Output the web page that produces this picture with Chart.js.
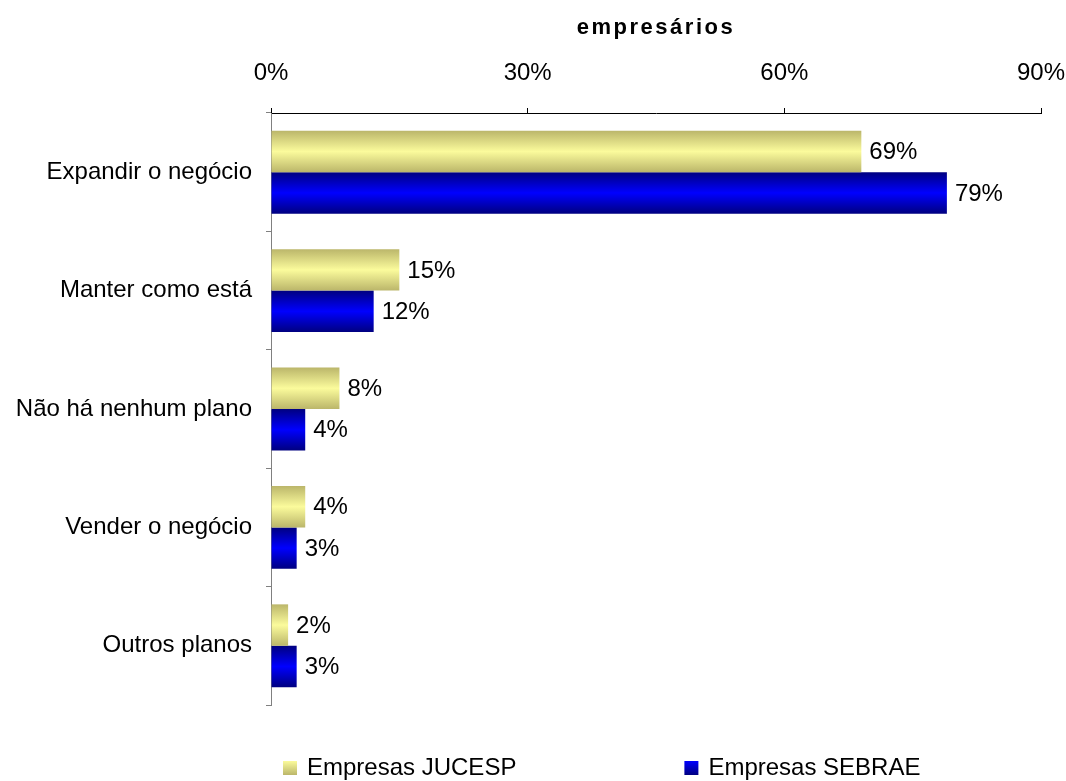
<!DOCTYPE html>
<html lang="pt">
<head>
<meta charset="utf-8">
<title>empresários</title>
<script src="https://cdn.jsdelivr.net/npm/chart.js@4.4.0/dist/chart.umd.min.js"></script>
<style>
    html, body { margin: 0; padding: 0; background: #fff; }
    #wrap { width: 1066px; height: 781px; position: relative; }
</style>
</head>
<body>
<div id="wrap"><canvas id="planosChart"></canvas></div>
<script>
// Chart data
const categories = ['Expandir o negócio', 'Manter como está', 'Não há nenhum plano', 'Vender o negócio', 'Outros planos'];
const jucespValues = [69, 15, 8, 4, 2];
const sebraeValues = [79, 12, 4, 3, 3];
const seriesNames = ['Empresas JUCESP', 'Empresas SEBRAE'];
const axisTicks = [0, 30, 60, 90];
const axisTitle = 'empresários';

// Shading for the bars (edge, middle, edge)
const yellowStops = ['#bbb66a', '#fbfb9c', '#bbb66a'];
const blueStops = ['#000080', '#0000ff', '#000080'];

const FONT = "'Liberation Sans', Arial, Helvetica, sans-serif";
Chart.defaults.font.family = FONT;
Chart.defaults.color = '#000';

/**
 * Gives every bar a vertical gradient matching its own position
 */
const barShading = {
    id: 'barShading',
    beforeDatasetsDraw(chart) {
        const ctx = chart.ctx;
        chart.data.datasets.forEach((ds, i) => {
            const stops = ds.shadeStops;
            chart.getDatasetMeta(i).data.forEach(bar => {
                const top = bar.y - bar.height / 2;
                const g = ctx.createLinearGradient(0, top, 0, top + bar.height);
                g.addColorStop(0, stops[0]);
                g.addColorStop(0.5, stops[1]);
                g.addColorStop(1, stops[2]);
                bar.options = Object.assign({}, bar.options, { backgroundColor: g });
            });
        });
    }
};

/**
 * Writes the percentage at the end of each bar
 */
const valueLabels = {
    id: 'valueLabels',
    afterDatasetsDraw(chart) {
        const ctx = chart.ctx;
        ctx.save();
        ctx.font = '24px ' + FONT;
        ctx.fillStyle = '#000';
        ctx.textAlign = 'left';
        ctx.textBaseline = 'middle';
        chart.data.datasets.forEach((ds, i) => {
            chart.getDatasetMeta(i).data.forEach((bar, j) => {
                ctx.fillText(ds.data[j] + '%', bar.x + 8, bar.y + 1);
            });
        });
        ctx.restore();
    }
};

/**
 * Bold spaced title above the top axis
 */
const axisHeading = {
    id: 'axisHeading',
    afterDraw(chart) {
        const ctx = chart.ctx;
        const area = chart.chartArea;
        ctx.save();
        ctx.font = 'bold 22px ' + FONT;
        ctx.letterSpacing = '2.5px';
        ctx.fillStyle = '#000';
        ctx.textAlign = 'center';
        ctx.textBaseline = 'middle';
        ctx.fillText(axisTitle, (area.left + area.right) / 2, 28);
        ctx.restore();
    }
};

/**
 * Legend row under the plot
 */
const legendRow = {
    id: 'legendRow',
    afterDraw(chart) {
        const ctx = chart.ctx;
        const area = chart.chartArea;
        const box = 14;
        const midY = 768;
        let x = area.left + 12;
        ctx.save();
        ctx.font = '24px ' + FONT;
        ctx.textBaseline = 'middle';
        ctx.textAlign = 'left';
        chart.data.datasets.forEach(ds => {
            const stops = ds.shadeStops;
            const g = ctx.createLinearGradient(0, midY - box / 2, 0, midY + box / 2);
            g.addColorStop(0, stops[1]);
            g.addColorStop(1, stops[0]);
            ctx.fillStyle = g;
            ctx.fillRect(x, midY - box / 2, box, box);
            ctx.fillStyle = '#000';
            ctx.fillText(ds.label, x + box + 10, midY);
            x += box + 10 + ctx.measureText(ds.label).width + 168;
        });
        ctx.restore();
    }
};

document.addEventListener('DOMContentLoaded', function() {
    const canvas = document.getElementById('planosChart');

    new Chart(canvas, {
        type: 'bar',
        data: {
            labels: categories,
            datasets: [{
                label: seriesNames[0],
                data: jucespValues,
                backgroundColor: yellowStops[1],
                shadeStops: yellowStops,
                borderWidth: 0,
                categoryPercentage: 0.7,
                barPercentage: 1.0
            }, {
                label: seriesNames[1],
                data: sebraeValues,
                backgroundColor: blueStops[1],
                shadeStops: blueStops,
                borderWidth: 0,
                categoryPercentage: 0.7,
                barPercentage: 1.0
            }]
        },
        options: {
            indexAxis: 'y',
            responsive: true,
            maintainAspectRatio: false,
            devicePixelRatio: 1,
            animation: false,
            layout: {
                padding: { top: 50, right: 25, bottom: 76, left: 0 }
            },
            plugins: {
                legend: { display: false },
                title: { display: false },
                tooltip: { enabled: false }
            },
            scales: {
                x: {
                    position: 'top',
                    min: 0,
                    max: 90,
                    afterBuildTicks: function(scale) {
                        scale.ticks = axisTicks.map(v => ({ value: v }));
                    },
                    afterFit: function(scale) {
                        // the end labels may run into the page margin
                        scale.height = 63;
                        scale.paddingLeft = 0;
                        scale.paddingRight = 0;
                    },
                    grid: {
                        drawOnChartArea: false,
                        tickLength: 5,
                        color: '#000'
                    },
                    border: { color: '#000' },
                    ticks: {
                        callback: v => v + '%',
                        font: { size: 24 },
                        color: '#000',
                        padding: 20,
                        maxRotation: 0
                    }
                },
                y: {
                    afterFit: function(scale) {
                        scale.width = 271;
                    },
                    grid: {
                        offset: true,
                        drawOnChartArea: false,
                        tickLength: 5,
                        color: '#808080'
                    },
                    border: { color: '#808080' },
                    ticks: {
                        font: { size: 24 },
                        color: '#000',
                        padding: 14
                    }
                }
            }
        },
        plugins: [barShading, valueLabels, axisHeading, legendRow]
    });
});
</script>
</body>
</html>
